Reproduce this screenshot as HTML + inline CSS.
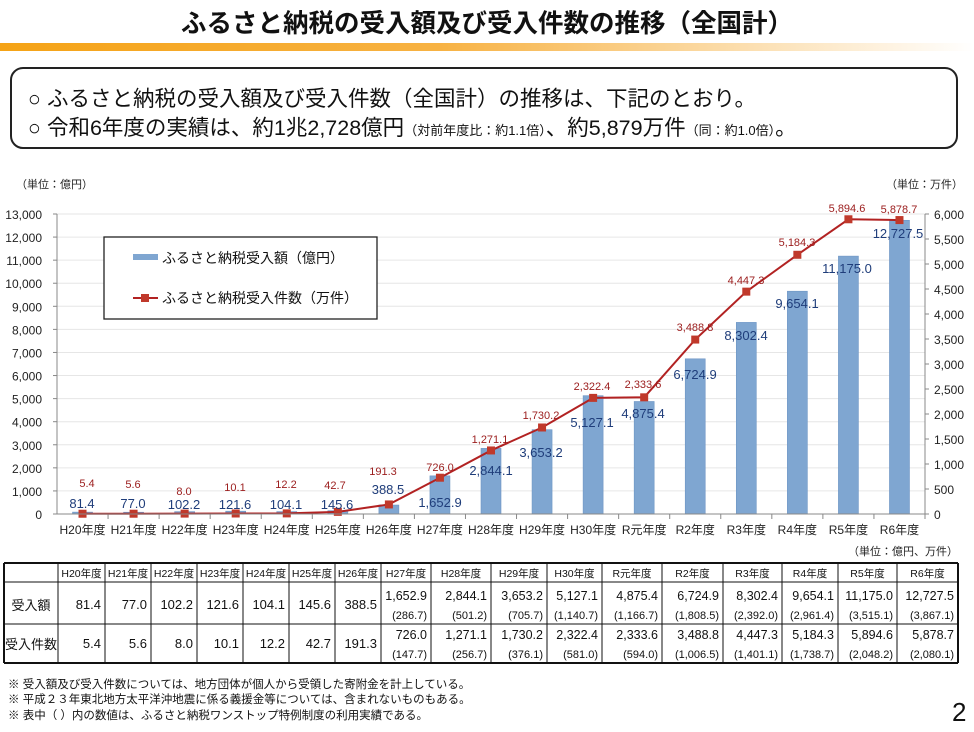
<!DOCTYPE html>
<html><head><meta charset="utf-8"><style>
body{margin:0;background:#fff;width:974px;height:727px;overflow:hidden;font-family:"Liberation Sans","Noto Sans CJK JP",sans-serif}
svg text{font-family:"Liberation Sans","Noto Sans CJK JP",sans-serif}
</style></head><body>
<svg id="s" width="974" height="727" viewBox="0 0 974 727" xmlns="http://www.w3.org/2000/svg">
<defs><linearGradient id="g" x1="0" x2="1"><stop offset="0" stop-color="#f5a316"/><stop offset="0.45" stop-color="#f7b243"/><stop offset="1" stop-color="#fff"/></linearGradient></defs>
<text x="487" y="32" text-anchor="middle" font-size="25.5" font-weight="bold" fill="#111">ふるさと納税の受入額及び受入件数の推移（全国計）</text>
<rect x="0" y="43" width="974" height="8" fill="url(#g)"/>
<rect x="11" y="68" width="946" height="80" rx="12" fill="#fff" stroke="#222" stroke-width="2"/>
<text x="28" y="106" font-size="21.5" fill="#111">○  ふるさと納税の受入額及び受入件数（全国計）の推移は、下記のとおり。</text>
<text x="28" y="135" font-size="21.5" fill="#111">○  令和6年度の実績は、約1兆2,728億円<tspan font-size="13">（対前年度比：約1.1倍）</tspan>、約5,879万件<tspan font-size="13">（同：約1.0倍）</tspan>。</text>
<text x="16" y="188" font-size="11" fill="#222">（単位：億円）</text>
<text x="886" y="188" font-size="11" fill="#222">（単位：万件）</text>
<g id="chart"></g>
<g id="tbl"></g>
<text x="958" y="555" text-anchor="end" font-size="11" fill="#222">（単位：億円、万件）</text>
<text x="8" y="688" font-size="11.5" fill="#111">※  受入額及び受入件数については、地方団体が個人から受領した寄附金を計上している。</text>
<text x="8" y="703" font-size="11.5" fill="#111">※  平成２３年東北地方太平洋沖地震に係る義援金等については、含まれないものもある。</text>
<text x="8" y="719" font-size="11.5" fill="#111">※  表中（ ）内の数値は、ふるさと納税ワンストップ特例制度の利用実績である。</text>
<text x="952" y="721" font-size="26" fill="#111">2</text>
</svg>
<script>
var L=57,R=925,T=214,B=514,cw=(R-L)/17;
var cats=["H20","H21","H22","H23","H24","H25","H26","H27","H28","H29","H30","R元","R2","R3","R4","R5","R6"];
var amt=[81.4,77.0,102.2,121.6,104.1,145.6,388.5,1652.9,2844.1,3653.2,5127.1,4875.4,6724.9,8302.4,9654.1,11175.0,12727.5];
var cnt=[5.4,5.6,8.0,10.1,12.2,42.7,191.3,726.0,1271.1,1730.2,2322.4,2333.6,3488.8,4447.3,5184.3,5894.6,5878.7];
var bl=[[82,503],[133,503],[184,504],[235,504],[286,504],[337,504],[388,489],[440,502],[491,470],[541,452],[592,422],[643,413],[695,374],[746,335],[797,303],[847,268],[898,233]];
var ll=[[87,483],[133,484],[184,491],[235,487],[286,484],[335,485],[383,471],[440,467],[490,439],[541,415],[592,386],[643,384],[695,327],[746,280],[797,242],[847,208],[899,209]];
function f(v){return v.toLocaleString('en-US',{minimumFractionDigits:1,maximumFractionDigits:1});}
var h='';
for(var i=0;i<=13;i++){var y=B-i*300/13;h+='<line x1="'+L+'" x2="'+R+'" y1="'+y+'" y2="'+y+'" stroke="#e6e6e6"/>';
h+='<text x="42" y="'+(y+5)+'" text-anchor="end" font-size="12" fill="#222">'+(i*1000).toLocaleString('en-US')+'</text>';
h+='<line x1="'+(L-4)+'" x2="'+L+'" y1="'+y+'" y2="'+y+'" stroke="#888"/>';}
for(var i=0;i<=12;i++){var y=B-i*25;h+='<text x="934" y="'+(y+5)+'" font-size="12" fill="#222">'+(i*500).toLocaleString('en-US')+'</text><line x1="'+R+'" x2="'+(R+4)+'" y1="'+y+'" y2="'+y+'" stroke="#888"/>';}
var pts=[];
for(var i=0;i<17;i++){var cx=L+cw*(i+0.5);var bh=amt[i]/13000*300;
h+='<rect x="'+(cx-10)+'" y="'+(B-bh)+'" width="20" height="'+bh+'" fill="#7fa6d1" stroke="#6d95c4" stroke-width="0.6"/>';
pts.push(cx+','+(B-cnt[i]/6000*300));
h+='<text x="'+cx+'" y="534" text-anchor="middle" font-size="12" fill="#222">'+cats[i]+'年度</text>';
h+='<line x1="'+(L+cw*(i+1))+'" x2="'+(L+cw*(i+1))+'" y1="'+B+'" y2="'+(B+5)+'" stroke="#888"/>';}
h+='<polyline points="'+pts.join(' ')+'" fill="none" stroke="#b22222" stroke-width="2"/>';
pts.forEach(function(p){var a=p.split(',');h+='<rect x="'+(a[0]-4)+'" y="'+(a[1]-4)+'" width="8" height="8" fill="#c0392b"/>';});
for(var i=0;i<17;i++){h+='<text x="'+bl[i][0]+'" y="'+(bl[i][1]+5)+'" text-anchor="middle" font-size="13" fill="#1f3d7a">'+f(amt[i])+'</text>';
h+='<text x="'+ll[i][0]+'" y="'+(ll[i][1]+4)+'" text-anchor="middle" font-size="11" fill="#9b1c1c">'+f(cnt[i])+'</text>';}
h+='<line x1="'+L+'" x2="'+L+'" y1="'+T+'" y2="'+B+'" stroke="#888"/><line x1="'+R+'" x2="'+R+'" y1="'+T+'" y2="'+B+'" stroke="#888"/><line x1="'+L+'" x2="'+R+'" y1="'+B+'" y2="'+B+'" stroke="#888"/>';
h+='<rect x="104" y="237" width="273" height="82" fill="#fff" stroke="#222" stroke-width="1.3"/>';
h+='<rect x="133" y="254" width="25" height="6" fill="#7fa6d1"/><text x="162" y="263" font-size="14" fill="#111">ふるさと納税受入額（億円）</text>';
h+='<line x1="133" x2="158" y1="298" y2="298" stroke="#b22222" stroke-width="2"/><rect x="141" y="294" width="8" height="8" fill="#c0392b"/><text x="162" y="303" font-size="14" fill="#111">ふるさと納税受入件数（万件）</text>';
document.getElementById('chart').innerHTML=h;
var xs=[4,58,105,151,197,243,289,335,381,431,491,547,602,662,723,782,838,897,958];
var ys=[563,582,624,663];
var sub1=["","","","","","","","286.7","501.2","705.7","1,140.7","1,166.7","1,808.5","2,392.0","2,961.4","3,515.1","3,867.1"];
var sub2=["","","","","","","","147.7","256.7","376.1","581.0","594.0","1,006.5","1,401.1","1,738.7","2,048.2","2,080.1"];
var t='';
for(var i=0;i<ys.length;i++)t+='<line x1="4" x2="958" y1="'+ys[i]+'" y2="'+ys[i]+'" stroke="#111" stroke-width="'+(i==0||i==3?2:1)+'"/>';
for(var i=0;i<xs.length;i++)t+='<line x1="'+xs[i]+'" x2="'+xs[i]+'" y1="563" y2="663" stroke="#111" stroke-width="'+(i==0||i==18?2:1)+'"/>';
t+='<text x="31" y="610" text-anchor="middle" font-size="13" fill="#111">受入額</text><text x="31" y="649" text-anchor="middle" font-size="13" fill="#111">受入件数</text>';
for(var i=0;i<17;i++){var x0=xs[i+1],x1=xs[i+2],cx=(x0+x1)/2;
t+='<text x="'+cx+'" y="577" text-anchor="middle" font-size="10.5" fill="#111">'+cats[i]+'年度</text>';
if(i<7){t+='<text x="'+(x1-4)+'" y="609" text-anchor="end" font-size="13" fill="#111">'+f(amt[i])+'</text><text x="'+(x1-4)+'" y="648" text-anchor="end" font-size="13" fill="#111">'+f(cnt[i])+'</text>';}
else{t+='<text x="'+(x1-4)+'" y="600" text-anchor="end" font-size="12.5" fill="#111">'+f(amt[i])+'</text><text x="'+(x1-4)+'" y="619" text-anchor="end" font-size="11" fill="#111">('+sub1[i]+')</text>';
t+='<text x="'+(x1-4)+'" y="639" text-anchor="end" font-size="12.5" fill="#111">'+f(cnt[i])+'</text><text x="'+(x1-4)+'" y="658" text-anchor="end" font-size="11" fill="#111">('+sub2[i]+')</text>';}}
document.getElementById('tbl').innerHTML=t;
</script>
</body></html>
